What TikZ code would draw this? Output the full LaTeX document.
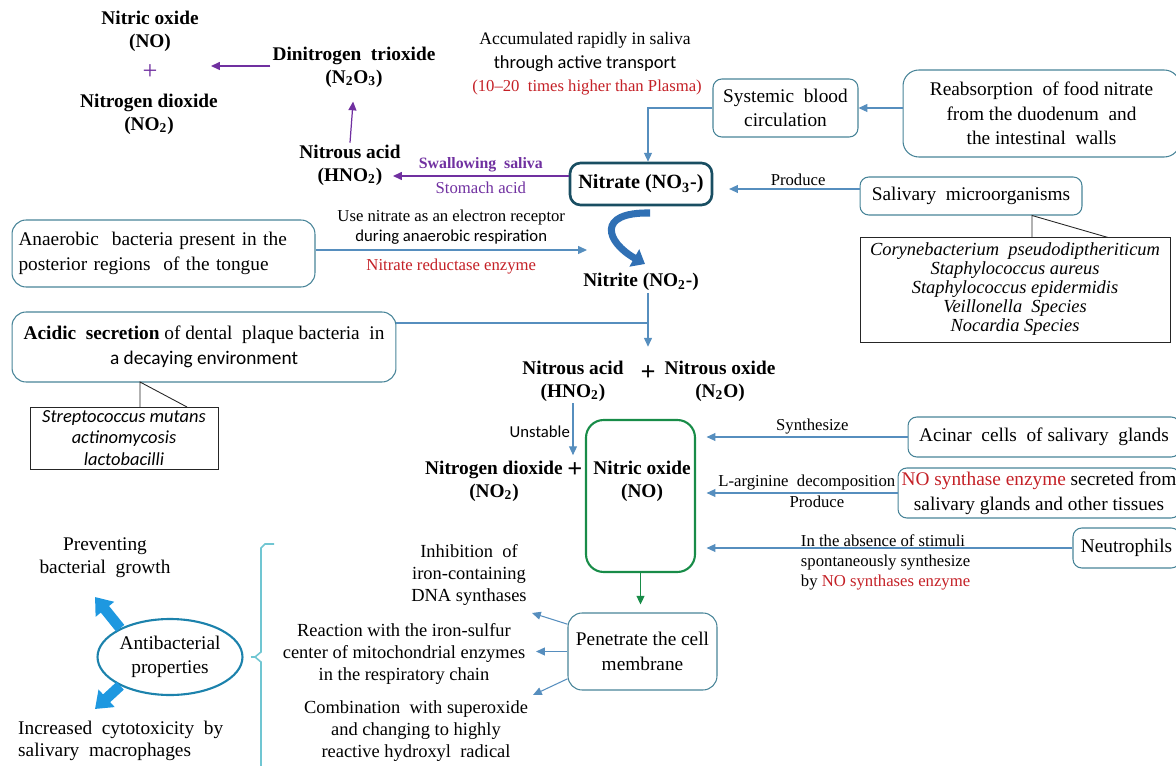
\documentclass[tikz,border=0pt]{standalone}
\usepackage{fontspec}
\setmainfont{Liberation Serif}
\newfontfamily\calibri{Carlito}
\usetikzlibrary{arrows.meta,shapes.geometric,positioning,calc}

\definecolor{boxline}{RGB}{72,132,152}
\definecolor{darkteal}{RGB}{25,78,98}
\definecolor{arrowblue}{RGB}{86,142,190}
\definecolor{rxpurple}{RGB}{112,48,160}
\definecolor{rxred}{RGB}{196,32,38}
\definecolor{nogreen}{RGB}{24,140,72}
\definecolor{bracecol}{RGB}{112,198,210}
\definecolor{fatblue}{RGB}{30,152,224}
\definecolor{ellblue}{RGB}{28,130,172}
\definecolor{curlblue}{RGB}{48,112,180}

\begin{document}
\begin{tikzpicture}[
    x=0.02cm,
    y=-0.02cm,
    font=\fontsize{11}{14}\selectfont,
    box/.style={draw=boxline, rounded corners=5pt, line width=0.6pt, align=center, inner sep=2pt},
    callout/.style={draw=black!85, line width=0.5pt, align=center, inner sep=1pt},
    chem/.style={font=\fontsize{11}{13}\selectfont\bfseries, align=center, inner sep=1pt},
    plus/.style={font=\fontsize{15}{15}\selectfont\bfseries, inner sep=1pt},
    lbl/.style={font=\fontsize{9.5}{11.3}\selectfont, align=center, inner sep=1.5pt},
    effect/.style={font=\fontsize{10.5}{12.6}\selectfont, align=center, inner sep=1pt},
    arr/.style={draw=arrowblue, line width=0.6pt, -{Triangle[length=5pt,width=4.5pt]}},
    purarr/.style={draw=rxpurple, line width=0.7pt, -{Triangle[length=5pt,width=4.5pt]}},
    garr/.style={draw=nogreen, line width=0.8pt, -{Triangle[length=5pt,width=4.5pt]}},
    conn/.style={draw=arrowblue, line width=0.6pt},
    fatarr/.style={draw=fatblue, line width=6pt, -{Triangle[length=9pt,width=13pt]}},
    curl/.style={draw=curlblue, line width=4pt, -{Triangle[length=7pt,width=11pt]}},
    brace/.style={draw=bracecol, line width=0.9pt}
  ]
  \useasboundingbox (0,0) rectangle (1176,766);

  % top left: nitrous acid chain
  \node[chem] (noA) at (150,31) {Nitric oxide\\(NO)};
  \node[font=\fontsize{15}{15}\selectfont, text=rxpurple, inner sep=1pt] (plusA) at (150,72) {+};
  \node[chem] (no2A) at (149,114) {Nitrogen dioxide\\(NO\textsubscript{2})};
  \node[chem] (n2o3) at (354,67) {Dinitrogen\ \ trioxide\\(N\textsubscript{2}O\textsubscript{3})};
  \node[chem] (hno2A) at (350,165) {Nitrous acid\\(HNO\textsubscript{2})};
  \coordinate (n2o3tip) at (211,66);
  \coordinate (hno2tip) at (393,176);

  \draw[purarr] (n2o3.west |- n2o3tip) -- (n2o3tip);
  \draw[purarr, shorten >=7pt] (hno2A.north) -- (n2o3.south);

  % nitrate and its sources
  \node[box, draw=darkteal, line width=1.5pt, rounded corners=6pt, minimum width=2.84cm, minimum height=0.84cm,
        font=\fontsize{11.5}{13}\selectfont\bfseries] (nitrate) at (641,184) {Nitrate (NO\textsubscript{3}-)};
  \node[align=center] (accum) at (585,52) {\fontsize{10}{11.3}\selectfont Accumulated rapidly\ in\ saliva\\
        {\calibri\fontsize{10.5}{11.3}\selectfont through active transport}};
  \node[lbl, text=rxred] (plasma) at (587,88) {(10--20\ \ times higher than Plasma)};
  \node[box, minimum width=2.9cm, minimum height=1.16cm] (sysbox) at (785.5,108) {Systemic\ \ blood\\circulation};
  \node[box, rounded corners=9pt, minimum width=5.54cm, minimum height=1.74cm] (reabs) at (1041.5,113.5)
        {Reabsorption\ \ of food nitrate\\from the duodenum\ \ and\\the intestinal\ \ walls};
  \node[box, minimum width=4.44cm, minimum height=0.76cm] (saliv) at (971,196) {Salivary\ \ microorganisms};
  \node[callout, minimum width=6.2cm, minimum height=2.1cm, font=\fontsize{10.5}{10.8}\selectfont\itshape]
        (species) at (1015,289.5) {Corynebacterium\ \ pseudodiptheriticum\\Staphylococcus aureus\\
        Staphylococcus epidermidis\\Veillonella\ \ Species\\Nocardia Species};
  \draw[callout] (1032,237.5) -- (1032,215.5) -- (1108,237.5);

  \draw[purarr] (nitrate.west |- hno2tip) -- (hno2tip)
        node[midway, above, text=rxpurple, font=\fontsize{9}{10}\selectfont\bfseries, inner sep=2pt] {Swallowing\ \ saliva}
        node[lbl, midway, below, text=rxpurple, inner sep=3pt] {Stomach acid};
  \draw[arr] (sysbox.west) -| ([xshift=0.14cm]nitrate.north);
  \draw[arr] (reabs.west |- sysbox.east) -- (sysbox.east);
  \coordinate (salivout) at ($(saliv.west)+(0,-7)$);
  \draw[arr, shorten >=9pt] (salivout) -- (salivout -| nitrate.east)
        node[lbl, above, pos=0.42] {Produce};

  % nitrite
  \node[box, rounded corners=8pt, minimum width=6.06cm, minimum height=1.34cm, text width=5.8cm, align=left]
        (anaer) at (163.5,253.5) {Anaerobic\ \ bacteria\ present\ in\ the\\posterior regions\ \ of the\ tongue};
  \coordinate (curltip) at (587,250);
  \draw[arr] (anaer.east |- curltip) -- (curltip)
        node[lbl, above, midway, inner sep=3pt] {Use nitrate as an electron receptor\\{\calibri during anaerobic respiration}}
        node[lbl, below, midway, text=rxred, inner sep=5pt] {Nitrate reductase enzyme};
  \draw[curl] (650,213) .. controls (596,212) and (606,242) .. (645,264);
  \node[chem] (nitrite) at (641,282) {Nitrite (NO\textsubscript{2}-)};

  \node[box, rounded corners=8pt, minimum width=7.68cm, minimum height=1.4cm] (acidic) at (204,347)
        {\textbf{Acidic\ \ secretion} of dental\ \ plaque bacteria\ \ in\\{\calibri a decaying environment}};
  \node[callout, minimum width=3.76cm, minimum height=1.24cm, font=\calibri\fontsize{10.5}{12.2}\selectfont\itshape]
        (bacteria) at (124,438) {Streptococcus mutans\\actinomycosis\\lactobacilli};
  \draw[callout] (140,407) -- (140,382) -- (187,407);

  % nitrous acid and nitric oxide
  \node[chem] (hno2B) at (573,381) {Nitrous acid\\(HNO\textsubscript{2})};
  \node[plus] (plusB) at (648,373) {+};
  \node[chem] (n2o) at (720,381) {Nitrous oxide\\(N\textsubscript{2}O)};
  \coordinate (acidjoin) at (648,323);
  \draw[arr, shorten >=9.5pt] (nitrite.south -| acidjoin) -- (plusB.north);
  \draw[conn] (acidic.east |- acidjoin) -- (acidjoin);

  \node[chem] (no2B) at (494,481) {Nitrogen dioxide\\(NO\textsubscript{2})};
  \node[plus] (plusC) at (575,470) {+};
  \draw[arr, shorten >=3pt] (hno2B.south) -- (hno2B.south |- plusC.north)
        node[lbl, left, midway, font=\calibri\fontsize{9.5}{11}\selectfont] {Unstable};

  \node[draw=nogreen, line width=1.2pt, rounded corners=10pt, minimum width=2.18cm, minimum height=3.04cm] (nobox) at (640.5,496) {};
  \node[chem] (noB) at (642,481) {Nitric oxide\\(NO)};

  \node[box, minimum width=5.44cm, minimum height=0.8cm] (acinar) at (1044,437) {Acinar\ \ cells\ \ of salivary\ \ glands};
  \node[box, minimum width=5.64cm, minimum height=1cm] (nosyn) at (1039,493)
        {\textcolor{rxred}{NO synthase enzyme} secreted from\\salivary glands and other tissues};
  \node[box, minimum width=2.14cm, minimum height=0.8cm] (neutro) at (1126.5,548) {Neutrophils};

  \draw[arr, shorten >=6pt] (acinar.west) -- (acinar.west -| nobox.east) node[lbl, above, pos=0.45] {Synthesize};
  \draw[arr, shorten >=6pt] (nosyn.west) -- (nosyn.west -| nobox.east)
        node[lbl, above, pos=0.45] {L-arginine\ \ decomposition}
        node[lbl, below, pos=0.4] {Produce};
  \draw[arr, shorten >=6pt] (neutro.west) -- (neutro.west -| nobox.east);
  \node[lbl, align=left, anchor=north west] (absence) at (798,532)
        {In the absence of stimuli\\spontaneously synthesize\\by \textcolor{rxred}{NO synthases enzyme}};

  % effects on bacteria
  \node[box, rounded corners=8pt, minimum width=2.98cm, minimum height=1.54cm] (penetrate) at (642.5,651.5)
        {Penetrate the cell\\membrane};
  \draw[garr, shorten >=4.5pt] (nobox.south) -- (nobox.south |- penetrate.north);

  \node[effect] (inhib) at (469,575) {Inhibition\ \ of\\iron-containing\\DNA synthases};
  \node[effect] (react) at (404,654) {Reaction with the iron-sulfur\\center of mitochondrial enzymes\\in the respiratory chain};
  \node[effect] (combo) at (416,731) {Combination\ \ with superoxide\\and changing to highly\\reactive hydroxyl\ \ radical};
  \coordinate (inhibtip) at (532,613);
  \coordinate (combotip) at (533,695);
  \draw[arr] (penetrate.160) -- (inhibtip);
  \draw[arr, shorten >=5pt] (penetrate.west) -- (penetrate.west -| react.east);
  \draw[arr] (penetrate.200) -- (combotip);

  % antibacterial properties
  \node[draw=ellblue, line width=1.2pt, ellipse, minimum width=2.9cm, minimum height=1.52cm, align=center, inner sep=0pt]
        (antib) at (170,657) {Antibacterial\\properties};
  \node[align=center, font=\fontsize{11}{13}\selectfont] (prevent) at (105,558) {Preventing\\bacterial\ \ growth};
  \node[align=left, anchor=west, font=\fontsize{11}{12.6}\selectfont] (cyto) at (12,741)
        {Increased\ \ cytotoxicity\ \ by\\salivary\ \ macrophages};
  \coordinate (preventtip) at (95,597);
  \coordinate (cytotip) at (95,709);
  \draw[fatarr] (antib.150) -- (preventtip);
  \draw[fatarr] (antib.210) -- (cytotip);

  \coordinate (bracetip) at (255,657);
  \draw[brace] (274,544) -- (265,544) -- (261,548) -- (261,652) -- (bracetip) -- (261,662) -- (261,770);
  \draw[brace, shorten <=4pt] (antib.east) -- (bracetip);
\end{tikzpicture}
\end{document}
